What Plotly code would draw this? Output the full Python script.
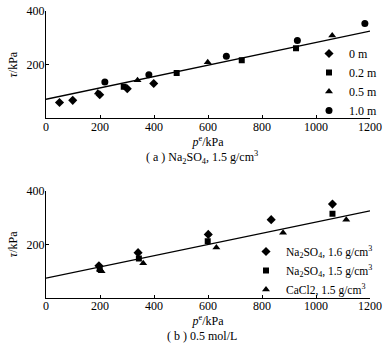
import plotly.graph_objects as go

# ---- data: panel (a) Na2SO4, 1.5 g/cm3 ----
a_0m_x = [50, 99, 199, 301, 399]
a_0m_y = [59, 67, 88, 110, 130]
a_02m_x = [288, 484, 725, 926]
a_02m_y = [118, 169, 216, 261]
a_05m_x = [192, 339, 599, 1060]
a_05m_y = [96, 142, 209, 309]
a_10m_x = [218, 381, 668, 931, 1181]
a_10m_y = [135, 162, 231, 290, 353]
a_fit_x = [0, 1200]
a_fit_y = [71, 325]

# ---- data: panel (b) 0.5 mol/L ----
b_na16_x = [196, 341, 601, 834, 1061]
b_na16_y = [120, 169, 237, 292, 350]
b_na15_x = [199, 344, 599, 1061]
b_na15_y = [108, 147, 212, 314]
b_ca15_x = [200, 206, 360, 631, 878, 1112]
b_ca15_y = [106, 100, 130, 188, 243, 292]
b_fit_x = [0, 1200]
b_fit_y = [74, 325]

x_ticks = [0, 200, 400, 600, 800, 1000, 1200]
y_ticks = [200, 400]

FONT = "Liberation Serif"
W, H = 390, 360
ML, MR, MT, MB = 46, 20, 11, 62
PW = W - ML - MR
PH = H - MT - MB

def py(pix):
    return (H - MB - pix) / PH

def px(pix):
    return (pix - ML) / PW

fig = go.Figure()

def mk(sym, size):
    return dict(symbol=sym, size=size, color="black", line=dict(width=0))

# panel a
fig.add_trace(go.Scatter(x=a_fit_x, y=a_fit_y, mode="lines", line=dict(color="black", width=1.3),
                         showlegend=False, xaxis="x", yaxis="y"))
fig.add_trace(go.Scatter(x=a_0m_x, y=a_0m_y, mode="markers", marker=mk("diamond", 7), name="0 m",
                         xaxis="x", yaxis="y", legend="legend"))
fig.add_trace(go.Scatter(x=a_02m_x, y=a_02m_y, mode="markers", marker=mk("square", 6), name="0.2 m",
                         xaxis="x", yaxis="y", legend="legend"))
fig.add_trace(go.Scatter(x=a_05m_x, y=a_05m_y, mode="markers", marker=mk("triangle-up", 7), name="0.5 m",
                         xaxis="x", yaxis="y", legend="legend"))
fig.add_trace(go.Scatter(x=a_10m_x, y=a_10m_y, mode="markers", marker=mk("circle", 7), name="1.0 m",
                         xaxis="x", yaxis="y", legend="legend"))

# panel b
fig.add_trace(go.Scatter(x=b_fit_x, y=b_fit_y, mode="lines", line=dict(color="black", width=1.3),
                         showlegend=False, xaxis="x2", yaxis="y2"))
fig.add_trace(go.Scatter(x=b_na16_x, y=b_na16_y, mode="markers", marker=mk("diamond", 7),
                         name="Na<sub>2</sub>SO<sub>4</sub>, 1.6 g/cm<sup>3</sup>",
                         xaxis="x2", yaxis="y2", legend="legend2"))
fig.add_trace(go.Scatter(x=b_na15_x, y=b_na15_y, mode="markers", marker=mk("square", 6),
                         name="Na<sub>2</sub>SO<sub>4</sub>, 1.5 g/cm<sup>3</sup>",
                         xaxis="x2", yaxis="y2", legend="legend2"))
fig.add_trace(go.Scatter(x=b_ca15_x, y=b_ca15_y, mode="markers", marker=mk("triangle-up", 7),
                         name="CaCl2, 1.5 g/cm<sup>3</sup>",
                         xaxis="x2", yaxis="y2", legend="legend2"))

xax = dict(range=[0, 1200], tickvals=x_ticks, ticktext=[str(v) for v in x_ticks],
           showline=True, linecolor="black", linewidth=1, ticks="inside", ticklen=3,
           tickcolor="black", showgrid=False, zeroline=False, ticklabeloverflow="allow",
           ticklabelstandoff=-3,
           tickfont=dict(family=FONT, size=12, color="black"),
           title=dict(text="<i>p</i><sup>e</sup>/kPa", font=dict(family=FONT, size=12, color="black"),
                      standoff=1))
yax = dict(range=[0, 400], tickvals=y_ticks, ticktext=[str(v) for v in y_ticks],
           showline=True, linecolor="black", linewidth=1, ticks="inside", ticklen=3,
           tickcolor="black", showgrid=False, zeroline=False, ticklabeloverflow="allow",
           ticklabelstandoff=-2,
           tickfont=dict(family=FONT, size=12, color="black"),
           title=dict(text="<i>τ</i>/kPa", font=dict(family=FONT, size=12, color="black"),
                      standoff=6))

leg_common = dict(bgcolor="rgba(0,0,0,0)", borderwidth=0, tracegroupgap=0, itemsizing="trace",
                  xanchor="left", yanchor="bottom")

fig.update_layout(
    width=W, height=H,
    margin=dict(l=ML, r=MR, t=MT, b=MB, autoexpand=False),
    paper_bgcolor="white", plot_bgcolor="white",
    hovermode=False,
    xaxis=dict(domain=[0, 1], anchor="y", **xax),
    yaxis=dict(domain=[py(118.3), 1], anchor="x", **yax),
    xaxis2=dict(domain=[0, 1], anchor="y2", **xax),
    yaxis2=dict(domain=[0, py(190.7)], anchor="x2", **yax),
    legend=dict(x=px(309), y=py(125), font=dict(family=FONT, size=12, color="black"), **leg_common),
    legend2=dict(x=px(246), y=py(304), font=dict(family=FONT, size=11.5, color="black"), **leg_common),
    annotations=[
        dict(text="( a ) Na<sub>2</sub>SO<sub>4</sub>, 1.5 g/cm<sup>3</sup>", xref="paper", yref="paper",
             x=px(202), y=py(157), xanchor="center", yanchor="middle", showarrow=False,
             font=dict(family=FONT, size=12, color="black")),
        dict(text="( b ) 0.5 mol/L", xref="paper", yref="paper",
             x=px(202), y=py(336), xanchor="center", yanchor="middle", showarrow=False,
             font=dict(family=FONT, size=12, color="black")),
    ],
)

fig.write_html("out.html", config={"displayModeBar": False},
               post_script="document.body.style.margin='0';")
